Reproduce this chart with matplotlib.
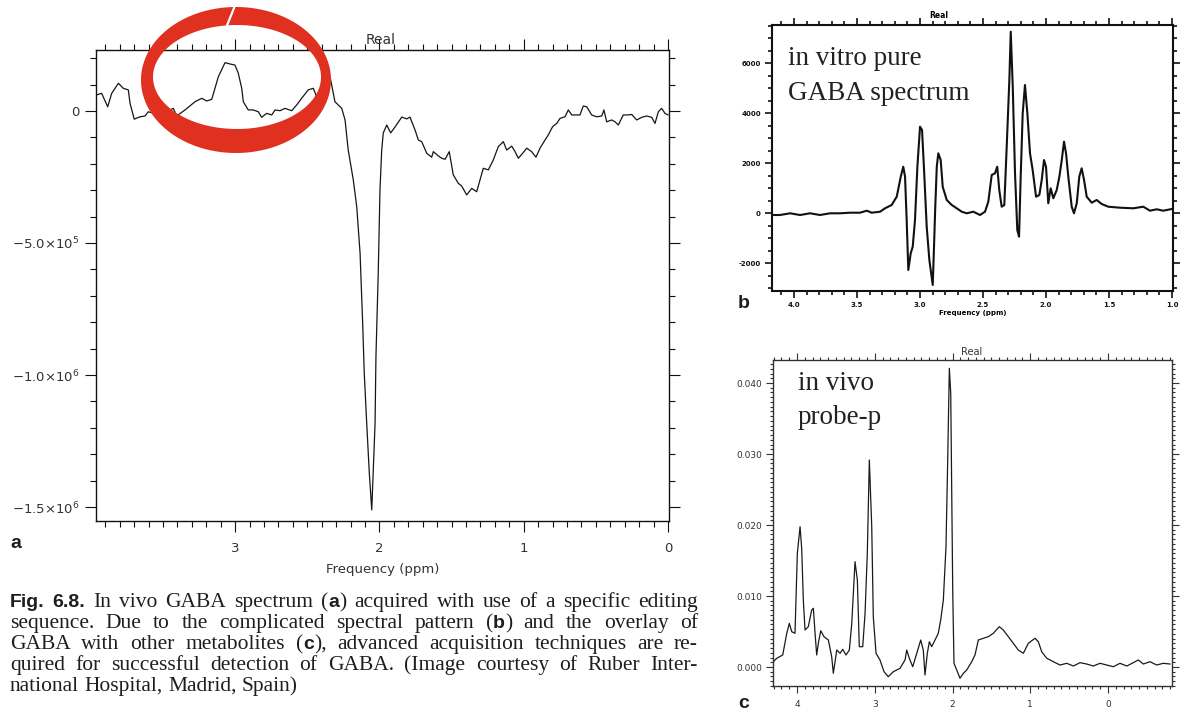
import numpy as np
import matplotlib
matplotlib.use("Agg")
import matplotlib.pyplot as plt
from matplotlib.ticker import MultipleLocator, FuncFormatter, AutoMinorLocator
from matplotlib.path import Path
from matplotlib.patches import PathPatch
from matplotlib.font_manager import FontProperties

# ---------------- spectrum (a): edited in vivo GABA spectrum ----------------
ppm_a = [3.959, 3.925, 3.883, 3.855, 3.809, 3.775, 3.740, 3.728, 3.699, 3.659,
         3.624, 3.602, 3.520, 3.428, 3.405, 3.347, 3.278, 3.231, 3.197, 3.162,
         3.116, 3.070, 3.035, 3.001, 2.978, 2.954, 2.943, 2.909, 2.874, 2.839,
         2.816, 2.781, 2.746, 2.723, 2.689, 2.654, 2.608, 2.573, 2.539, 2.493,
         2.458, 2.435, 2.391, 2.342, 2.308, 2.261, 2.238, 2.216, 2.181, 2.157,
         2.134, 2.116, 2.105, 2.088, 2.070, 2.053, 2.046, 2.030, 2.024, 2.008,
         1.996, 1.984, 1.973, 1.949, 1.922, 1.892, 1.845, 1.811, 1.788, 1.753,
         1.730, 1.707, 1.672, 1.638, 1.626, 1.592, 1.568, 1.545, 1.516, 1.488,
         1.453, 1.430, 1.395, 1.360, 1.326, 1.303, 1.280, 1.245, 1.211, 1.176,
         1.141, 1.118, 1.083, 1.060, 1.037, 1.007, 0.979, 0.945, 0.915, 0.887,
         0.859, 0.830, 0.799, 0.771, 0.748, 0.714, 0.691, 0.667, 0.633, 0.610,
         0.587, 0.563, 0.529, 0.494, 0.459, 0.444, 0.425, 0.390, 0.367, 0.344,
         0.310, 0.275, 0.252, 0.217, 0.182, 0.148, 0.113, 0.090, 0.067, 0.044,
         0.021, 0.000]
# amplitude in units of 1e5
amp_a = [0.61, 0.67, 0.16, 0.67, 1.05, 0.86, 0.80, 0.29, -0.31, -0.22,
         -0.19, -0.03, -0.15, 0.10, -0.19, 0.04, 0.35, 0.48, 0.38, 0.44,
         1.30, 1.83, 1.78, 1.74, 1.43, 0.86, 0.35, 0.04, 0.04, -0.03,
         -0.24, -0.09, -0.15, 0.04, 0.01, 0.10, 0.01, 0.23, 0.48, 0.80,
         0.86, 0.54, 0.98, 1.30, 0.35, 0.10, -0.34, -1.48, -2.61, -3.63,
         -5.38, -8.03, -9.92, -11.82, -13.71, -15.11, -14.09, -11.82, -9.32, -6.14,
         -2.99, -1.48, -0.83, -0.53, -0.83, -0.61, -0.23, -0.30, -0.23, -0.72,
         -1.10, -1.16, -1.60, -1.75, -1.54, -1.70, -1.79, -1.83, -1.54, -2.42,
         -2.74, -2.84, -3.18, -2.93, -3.06, -2.61, -2.17, -2.23, -1.86, -1.35,
         -1.16, -1.48, -1.33, -1.54, -1.79, -1.60, -1.41, -1.54, -1.75, -1.41,
         -1.16, -0.91, -0.59, -0.47, -0.28, -0.22, 0.04, -0.15, -0.15, -0.15,
         0.19, 0.16, -0.15, -0.22, -0.19, 0.04, -0.41, -0.34, -0.41, -0.53,
         -0.15, -0.15, -0.13, -0.34, -0.24, -0.19, -0.24, -0.47, -0.03, 0.10,
         -0.09, -0.15]

# ---------------- spectrum (b): in vitro GABA ----------------
ppm_b = [4.190, 4.111, 4.032, 3.952, 3.873, 3.794, 3.714, 3.635, 3.556, 3.476,
         3.423, 3.383, 3.317, 3.278, 3.225, 3.185, 3.153, 3.133, 3.119, 3.106,
         3.093, 3.074, 3.058, 3.040, 3.021, 3.000, 2.984, 2.968, 2.947, 2.926,
         2.899, 2.889, 2.879, 2.867, 2.855, 2.836, 2.820, 2.788, 2.748, 2.709,
         2.669, 2.629, 2.577, 2.524, 2.484, 2.458, 2.431, 2.405, 2.387, 2.371,
         2.352, 2.331, 2.312, 2.291, 2.280, 2.264, 2.246, 2.228, 2.214, 2.201,
         2.185, 2.167, 2.148, 2.127, 2.106, 2.079, 2.053, 2.034, 2.016, 2.000,
         1.982, 1.963, 1.942, 1.915, 1.894, 1.875, 1.857, 1.841, 1.823, 1.796,
         1.778, 1.756, 1.736, 1.717, 1.698, 1.677, 1.637, 1.598, 1.558, 1.506,
         1.413, 1.307, 1.228, 1.175, 1.121, 1.069, 0.990]
amp_b = [-80, -80, -12, -80, -12, -80, -12, -12, 12, 12,
         92, 12, 52, 188, 320, 652, 1452, 1852, 1452, -280,
         -2280, -1612, -1348, -280, 1852, 3452, 3320, 1720, -548, -1880,
         -2880, -1348, 252, 1852, 2388, 2120, 1052, 520, 320, 188,
         52, -12, 52, -80, 52, 452, 1520, 1588, 1852, 920,
         252, 320, 2652, 5320, 7252, 5052, 1588, -680, -948, 1452,
         3988, 5120, 3988, 2388, 1720, 652, 720, 1320, 2120, 1852,
         388, 988, 588, 920, 1452, 2120, 2852, 2388, 1452, 252,
         -12, 388, 1452, 1788, 1320, 652, 412, 520, 360, 252,
         212, 188, 252, 92, 148, 92, 172]

# ---------------- spectrum (c): in vivo, probe-p ----------------
ppm_c = [4.325, 4.261, 4.184, 4.132, 4.099, 4.068, 4.026, 3.996, 3.961, 3.940,
         3.919, 3.897, 3.855, 3.811, 3.790, 3.768, 3.747, 3.726, 3.695, 3.653,
         3.597, 3.554, 3.533, 3.489, 3.447, 3.412, 3.370, 3.327, 3.296, 3.254,
         3.224, 3.199, 3.155, 3.125, 3.096, 3.070, 3.039, 3.019, 2.984, 2.933,
         2.881, 2.826, 2.761, 2.675, 2.611, 2.589, 2.556, 2.512, 2.460, 2.409,
         2.376, 2.354, 2.324, 2.298, 2.268, 2.225, 2.183, 2.152, 2.118, 2.084,
         2.062, 2.041, 2.023, 2.010, 1.997, 1.981, 1.946, 1.904, 1.861, 1.817,
         1.753, 1.711, 1.668, 1.604, 1.540, 1.475, 1.398, 1.347, 1.282, 1.218,
         1.154, 1.089, 1.025, 0.939, 0.896, 0.853, 0.788, 0.704, 0.617, 0.531,
         0.446, 0.360, 0.274, 0.189, 0.103, 0.017, -0.068, -0.154, -0.241, -0.325,
         -0.390, -0.454, -0.540, -0.626, -0.711, -0.797]
# amplitude in units of 1e-3
amp_c = [0.52, 1.23, 1.69, 4.75, 6.15, 4.97, 4.75, 16.01, 19.76, 16.72,
         9.44, 5.21, 5.68, 8.03, 8.27, 4.75, 1.69, 3.34, 5.11, 4.27,
         3.80, 1.45, -0.89, 2.39, 1.93, 2.49, 1.69, 2.39, 6.15, 14.83,
         12.25, 2.86, 2.86, 7.56, 16.01, 29.15, 19.76, 7.08, 1.93, 0.99,
         -0.66, -1.37, -0.66, -0.18, 0.99, 2.39, 1.23, 0.04, 1.93, 3.80,
         2.39, -1.13, 1.93, 3.56, 2.86, 3.80, 4.75, 6.62, 9.44, 16.94,
         29.15, 42.07, 38.55, 24.46, 10.38, 0.52, -0.42, -1.59, -0.89, -0.42,
         0.75, 1.69, 3.80, 4.04, 4.27, 4.75, 5.68, 5.21, 4.27, 3.34,
         2.39, 1.93, 3.34, 4.04, 3.56, 2.15, 1.23, 0.75, 0.28, 0.52,
         0.14, 0.61, 0.42, 0.14, 0.52, 0.28, 0.04, 0.52, 0.14, 0.61,
         0.99, 0.42, 0.75, 0.28, 0.52, 0.42]

yticks_a = [0, -5e5, -1.0e6, -1.5e6]
ylabels_a = ["0", r"$-5.0{\times}10^{5}$", r"$-1.0{\times}10^{6}$", r"$-1.5{\times}10^{6}$"]

# caption text; **...** marks the bold sans-serif pieces
caption_lines = [
    "**Fig.** **6.8.**  In vivo GABA spectrum (**a**) acquired with use of a specific editing",
    "sequence. Due to the complicated spectral pattern (**b**) and the overlay of",
    "GABA with other metabolites (**c**), advanced acquisition techniques are re-",
    "quired for successful detection of GABA. (Image courtesy of Ruber Inter-",
    "national Hospital, Madrid, Spain)",
]

# ---------------------------------------------------------------------------
W, H = 1183, 711
plt.rcParams["font.family"] = ["DejaVu Sans"]
plt.rcParams["mathtext.fontset"] = "dejavusans"
fig = plt.figure(figsize=(W / 100, H / 100), dpi=100)
fig.patch.set_facecolor("white")

SERIF = ["Liberation Serif", "DejaVu Serif"]
BSANS = ["Liberation Sans Narrow", "Liberation Sans", "DejaVu Sans"]
INK = "#1e1e1e"


def rect(l, t, r, b):
    return [l / W, 1 - b / H, (r - l) / W, (b - t) / H]


def fx(x):
    return x / W


def fy(y):
    return 1 - y / H


def style_axes(ax, lw, maj, mino, col="#111111"):
    for s in ax.spines.values():
        s.set_linewidth(lw)
        s.set_color(col)
    ax.tick_params(which="both", direction="out", top=True, right=True,
                   labeltop=False, labelright=False, colors=col, width=lw * 0.8)
    ax.tick_params(which="major", length=maj)
    ax.tick_params(which="minor", length=mino)
    ax.set_facecolor("white")


# ---- panel a ----
ax_a = fig.add_axes(rect(96, 50, 669, 521))
ax_a.plot(ppm_a, np.array(amp_a) * 1e5, color="#161616", lw=0.9)
ax_a.set_xlim(3.964, -0.007)
ax_a.set_ylim(-1.553e6, 2.31e5)
style_axes(ax_a, 1.0, 8, 4.5)
ax_a.xaxis.set_major_locator(MultipleLocator(1))
ax_a.xaxis.set_minor_locator(MultipleLocator(0.1))
ax_a.xaxis.set_major_formatter(FuncFormatter(lambda v, p: f"{v:.0f}"))
ax_a.yaxis.set_ticks(yticks_a)
ax_a.yaxis.set_ticklabels(ylabels_a)
ax_a.yaxis.set_minor_locator(MultipleLocator(1e5))
ax_a.tick_params(axis="both", labelsize=9.5, labelcolor="#333333")
ax_a.tick_params(axis="x", pad=7)
ax_a.tick_params(axis="y", pad=4)
ax_a.set_xlabel("Frequency (ppm)", fontsize=9.5, color="#333333", labelpad=6)
fig.text(fx(381), fy(40), "Real", fontsize=10, color="#333333", ha="center", va="center")
fig.text(fx(10), fy(543), "a", fontproperties=FontProperties(family=BSANS, weight="bold", size=14),
         color=INK, ha="left", va="center")

# ---- panel b ----
ax_b = fig.add_axes(rect(772, 25, 1173, 291))
ax_b.plot(ppm_b, amp_b, color="#111111", lw=1.5)
ax_b.set_xlim(4.175, 0.992)
ax_b.set_ylim(-3120, 7520)
style_axes(ax_b, 1.5, 5, 3)
ax_b.xaxis.set_major_locator(MultipleLocator(0.5))
ax_b.xaxis.set_minor_locator(MultipleLocator(0.1))
ax_b.xaxis.set_major_formatter(FuncFormatter(lambda v, p: f"{v:.1f}"))
ax_b.yaxis.set_major_locator(MultipleLocator(2000))
ax_b.yaxis.set_minor_locator(MultipleLocator(500))
ax_b.yaxis.set_major_formatter(FuncFormatter(lambda v, p: f"{v:.0f}"))
ax_b.tick_params(axis="both", labelsize=5, pad=3)
for lab in ax_b.get_xticklabels() + ax_b.get_yticklabels():
    lab.set_fontweight("bold")
ax_b.set_xlabel("Frequency (ppm)", fontsize=5, fontweight="bold", labelpad=1)
fig.text(fx(939), fy(15), "Real", fontsize=5.5, fontweight="bold", ha="center", va="center")
fig.text(fx(788), fy(65), "in vitro pure", fontproperties=FontProperties(family=SERIF, size=19.5),
         color="#222222", ha="left", va="baseline")
fig.text(fx(788), fy(100), "GABA spectrum", fontproperties=FontProperties(family=SERIF, size=19.5),
         color="#222222", ha="left", va="baseline")
fig.text(fx(738), fy(303), "b", fontproperties=FontProperties(family=BSANS, weight="bold", size=14),
         color=INK, ha="left", va="center")

# ---- panel c ----
ax_c = fig.add_axes(rect(773, 360, 1172, 686))
ax_c.plot(ppm_c, np.array(amp_c) * 1e-3, color="#1a1a1a", lw=0.9)
ax_c.set_xlim(4.309, -0.823)
ax_c.set_ylim(-0.002676, 0.04324)
style_axes(ax_c, 1.0, 5, 2.5, col="#333333")
ax_c.xaxis.set_major_locator(MultipleLocator(1))
ax_c.xaxis.set_minor_locator(MultipleLocator(0.1))
ax_c.xaxis.set_major_formatter(FuncFormatter(lambda v, p: f"{v:.0f}"))
ax_c.yaxis.set_major_locator(MultipleLocator(0.01))
ax_c.yaxis.set_minor_locator(AutoMinorLocator(15))
ax_c.yaxis.set_major_formatter(FuncFormatter(lambda v, p: f"{v:.3f}"))
ax_c.tick_params(axis="both", labelsize=6.5, labelcolor="#333333", pad=3)
ax_c.tick_params(axis="x", pad=5)
fig.text(fx(972), fy(352), "Real", fontsize=7, color="#333333", ha="center", va="center")
fig.text(fx(798), fy(390), "in vivo", fontproperties=FontProperties(family=SERIF, size=19.5),
         color="#222222", ha="left", va="baseline")
fig.text(fx(798), fy(424), "probe-p", fontproperties=FontProperties(family=SERIF, size=19.5),
         color="#222222", ha="left", va="baseline")
fig.text(fx(738), fy(703), "c", fontproperties=FontProperties(family=BSANS, weight="bold", size=14),
         color=INK, ha="left", va="center")

# ---- red highlight ring around the GABA peak ----
t = np.linspace(0, 2 * np.pi, 200)
outer = np.column_stack([236 + 95 * np.cos(t), 80 + 73 * np.sin(t)])
inner = np.column_stack([237 + 84 * np.cos(t), 77 + 52 * np.sin(t)])[::-1]
verts = np.vstack([outer, outer[:1], inner, inner[:1]])
codes = ([Path.MOVETO] + [Path.LINETO] * (len(outer) - 1) + [Path.CLOSEPOLY]
         + [Path.MOVETO] + [Path.LINETO] * (len(inner) - 1) + [Path.CLOSEPOLY])
verts_fig = np.column_stack([verts[:, 0] / W, 1 - verts[:, 1] / H])
ring = PathPatch(Path(verts_fig, codes), transform=fig.transFigure,
                 facecolor="#e0301f", edgecolor="none", zorder=5)
fig.add_artist(ring)
fig.add_artist(plt.Line2D([fx(226), fx(234)], [fy(28), fy(8)], transform=fig.transFigure,
                          color="white", lw=1.6, zorder=6))

# ---- justified caption ----
renderer = fig.canvas.get_renderer()
SERIF_PT = 15.5
serif_fp = FontProperties(family=SERIF, size=SERIF_PT)
bold_fp = FontProperties(family=BSANS, weight="bold", size=14)
x_left, x_right = 10, 698
baselines = [607, 628, 649, 670, 691]
space_nat = SERIF_PT * 100 / 72 * 0.25
for li, (line, yb) in enumerate(zip(caption_lines, baselines)):
    words = [w for w in line.split(" ") if w != ""]
    items = []
    total = 0.0
    for w in words:
        parts = w.split("**")
        segs = []
        ww = 0.0
        for i, p in enumerate(parts):
            if not p:
                continue
            txt = fig.text(0, 0, p, fontproperties=bold_fp if i % 2 == 1 else serif_fp,
                           color=INK, ha="left", va="baseline")
            wd = txt.get_window_extent(renderer).width
            segs.append((txt, wd))
            ww += wd
        items.append(segs)
        total += ww
    justify = li < len(caption_lines) - 1
    gap = (x_right - x_left - total) / (len(items) - 1) if justify else space_nat
    x = x_left
    for segs in items:
        for txt, wd in segs:
            txt.set_position((fx(x), fy(yb)))
            x += wd
        x += gap

fig.savefig("out.png", dpi=100, facecolor="white")
